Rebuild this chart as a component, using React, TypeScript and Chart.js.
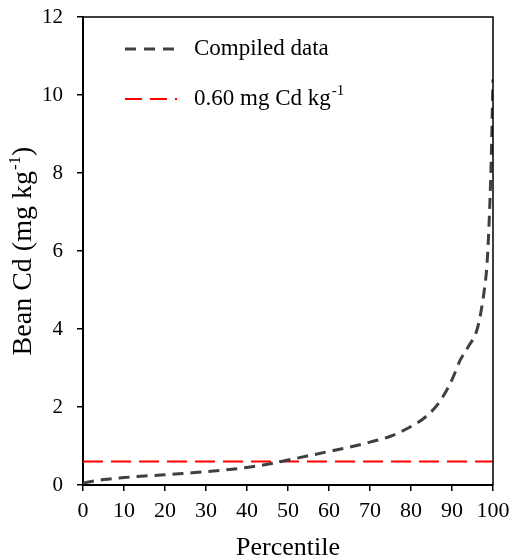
import React, { useEffect, useRef } from "react";
import { Chart, registerables } from "chart.js";

Chart.register(...registerables);

const percentiles = [0, 5, 10, 15, 20, 25, 30, 35, 40, 45, 50, 55, 60, 65, 70, 75, 80, 83, 86, 88, 90, 92, 94, 96, 97, 98, 98.5, 99, 99.5, 100];
const beanCd = [0.05, 0.14, 0.19, 0.23, 0.26, 0.3, 0.34, 0.39, 0.45, 0.53, 0.64, 0.75, 0.86, 0.97, 1.1, 1.25, 1.5, 1.7, 2.0, 2.3, 2.7, 3.2, 3.55, 3.95, 4.4, 5.1, 5.6, 6.6, 8.1, 10.4];
const thresholdX = [0, 100];
const thresholdValue = 0.6;
const xTicks = [0, 10, 20, 30, 40, 50, 60, 70, 80, 90, 100];
const yTicks = [0, 2, 4, 6, 8, 10, 12];

const FONT = "'Liberation Serif', 'Times New Roman', serif";

const zeroPad = (s: any) => {
  s.paddingTop = 0;
  s.paddingBottom = 0;
  s.paddingLeft = 0;
  s.paddingRight = 0;
};

const overlay = {
  id: "overlay",
  afterDraw(chart: any) {
    const ctx = chart.ctx;
    const a = chart.chartArea;
    ctx.save();
    // box
    ctx.strokeStyle = "#000";
    ctx.lineWidth = 1.5;
    ctx.beginPath();
    ctx.moveTo(a.left, a.top);
    ctx.lineTo(a.right, a.top);
    ctx.lineTo(a.right, a.bottom);
    ctx.stroke();

    // legend
    const lx0 = a.left + 42, tx = a.left + 111;
    const ly1 = a.top + 32, ly2 = a.top + 82;
    ctx.lineWidth = 3;
    ctx.strokeStyle = "#404040";
    ctx.setLineDash([11, 8]);
    ctx.beginPath(); ctx.moveTo(lx0, ly1); ctx.lineTo(lx0 + 50, ly1); ctx.stroke();
    ctx.lineWidth = 2;
    ctx.strokeStyle = "#ff0000";
    ctx.setLineDash([17, 8]);
    ctx.beginPath(); ctx.moveTo(lx0, ly2); ctx.lineTo(lx0 + 52, ly2); ctx.stroke();
    ctx.setLineDash([]);
    ctx.fillStyle = "#000";
    ctx.textBaseline = "middle";
    ctx.textAlign = "left";
    ctx.font = `23px ${FONT}`;
    ctx.fillText("Compiled data", tx, ly1);
    const t2 = "0.60 mg Cd kg";
    ctx.fillText(t2, tx, ly2);
    const w2 = ctx.measureText(t2).width;
    ctx.font = `15px ${FONT}`;
    ctx.fillText("-1", tx + w2 + 1, ly2 - 8);

    // x title
    ctx.font = `26px ${FONT}`;
    ctx.textAlign = "center";
    ctx.textBaseline = "alphabetic";
    ctx.fillText("Percentile", (a.left + a.right) / 2, 555);

    // y title
    ctx.save();
    ctx.translate(31, (a.top + a.bottom) / 2);
    ctx.rotate(-Math.PI / 2);
    const main = "Bean Cd (mg kg";
    const sup = "-1";
    const close = ")";
    ctx.font = `28px ${FONT}`;
    const wm = ctx.measureText(main).width;
    const wc = ctx.measureText(close).width;
    ctx.font = `17px ${FONT}`;
    const ws = ctx.measureText(sup).width;
    const total = wm + ws + wc + 1;
    let x = -total / 2;
    ctx.textAlign = "left";
    ctx.font = `28px ${FONT}`;
    ctx.fillText(main, x, 0);
    x += wm;
    ctx.font = `17px ${FONT}`;
    ctx.fillText(sup, x + 1, -11);
    x += ws + 1;
    ctx.font = `28px ${FONT}`;
    ctx.fillText(close, x, 0);
    ctx.restore();

    ctx.restore();
  },
};

export default function App() {
  const ref = useRef<HTMLCanvasElement>(null);
  useEffect(() => {
    const chart = new Chart(ref.current as HTMLCanvasElement, {
      type: "line",
      data: {
        datasets: [
          {
            label: "Compiled data",
            data: percentiles.map((p, i) => ({ x: p, y: beanCd[i] })),
            borderColor: "#404040",
            borderWidth: 3,
            borderDash: [11, 7],
            pointRadius: 0,
            cubicInterpolationMode: "monotone",
            fill: false,
          },
          {
            label: "0.60 mg Cd kg-1",
            data: thresholdX.map((p) => ({ x: p, y: thresholdValue })),
            borderColor: "#ff0000",
            borderWidth: 2,
            borderDash: [20, 8],
            pointRadius: 0,
            fill: false,
          },
        ],
      },
      options: {
        animation: false,
        responsive: false,
        maintainAspectRatio: false,
        layout: { padding: { left: 0, top: 17, right: 18, bottom: 0 } },
        plugins: { legend: { display: false }, tooltip: { enabled: false } },
        scales: {
          x: {
            type: "linear",
            min: 0,
            max: 100,
            afterFit: (s: any) => { s.height = 75; zeroPad(s); },
            afterBuildTicks: (s: any) => { s.ticks = xTicks.map((v) => ({ value: v })); },
            ticks: { color: "#000", font: { family: FONT, size: 22 }, padding: 7, maxRotation: 0, autoSkip: false },
            grid: { drawOnChartArea: false, drawTicks: true, tickLength: 6, color: "#000", lineWidth: 1.5 },
            border: { display: true, color: "#000", width: 2 },
          },
          y: {
            type: "linear",
            min: 0,
            max: 12,
            afterFit: (s: any) => { s.width = 83; zeroPad(s); },
            afterBuildTicks: (s: any) => { s.ticks = yTicks.map((v) => ({ value: v })); },
            ticks: { color: "#000", font: { family: FONT, size: 21 }, padding: 14 },
            grid: { drawOnChartArea: false, drawTicks: true, tickLength: 6, color: "#000", lineWidth: 1.5 },
            border: { display: true, color: "#000", width: 2 },
          },
        },
      },
      plugins: [overlay],
    });
    return () => chart.destroy();
  }, []);
  return (
    <div style={{ position: "absolute", left: 0, top: 0, width: 511, height: 560, background: "#fff" }}>
      <canvas ref={ref} width={511} height={560} style={{ width: 511, height: 560, display: "block" }} />
    </div>
  );
}
